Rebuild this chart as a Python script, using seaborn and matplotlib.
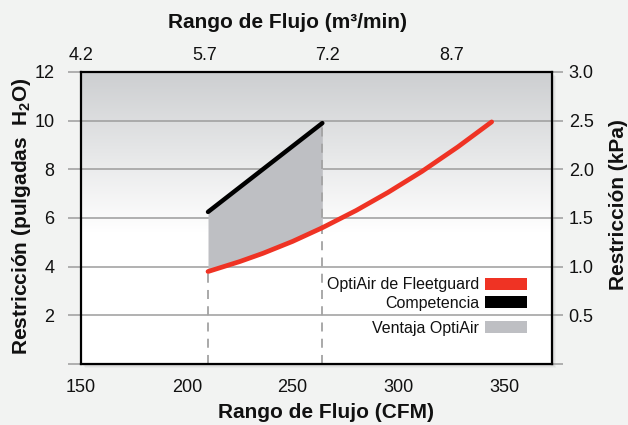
import numpy as np
import pandas as pd
import matplotlib
matplotlib.use("Agg")
import matplotlib.pyplot as plt
from matplotlib.patches import Patch, Rectangle
from matplotlib.colors import LinearSegmentedColormap
import seaborn as sns

# ---- data ----
cfm_red = [210, 225, 236, 250, 264, 280, 295, 311, 328, 344]
restr_red = [3.8, 4.21, 4.55, 5.04, 5.6, 6.31, 7.05, 7.91, 8.92, 9.95]
cfm_black = [210, 264]
restr_black = [6.25, 9.9]
y_ticks = [2, 4, 6, 8, 10]
kpa_ticks = [0.5, 1.0, 1.5, 2.0, 2.5, 3.0]
cfm_ticks = [150, 200, 250, 300, 350]
m3_ticks = [4.2, 5.7, 7.2, 8.7]
legend_labels = ["OptiAir de Fleetguard", "Competencia", "Ventaja OptiAir"]

RED = "#ef3324"
BLACK = "#000000"
GREY = "#bebfc3"
BG = "#f2f3f2"
GRID = "#9c9c9c"
TXT = "#111111"

sns.set_theme(style="white")
plt.rcParams["font.family"] = ["Liberation Sans", "DejaVu Sans"]
plt.rcParams["mathtext.fontset"] = "custom"
plt.rcParams["mathtext.bf"] = "Liberation Sans:bold"
plt.rcParams["mathtext.rm"] = "Liberation Sans"

W, H = 628, 425
fig = plt.figure(figsize=(W / 100, H / 100), dpi=100, facecolor=BG)
L, R, T, B = 81, 552, 72, 364
ax = fig.add_axes([L / W, 1 - B / H, (R - L) / W, (B - T) / H])
ax.set_zorder(1)

xmin, xmax = 150, 372.5
ax.set_xlim(xmin, xmax)
ax.set_ylim(0, 12)

# shadow behind the box
for i, a in enumerate([0.06, 0.05, 0.04, 0.03]):
    off = i + 1
    fig.patches.append(Rectangle(((L + off) / W, 1 - (B + off) / H), (R - L) / W, (B - T) / H,
                                 transform=fig.transFigure, facecolor="black", alpha=a,
                                 edgecolor="none", zorder=-1))

# gradient background
grad = np.linspace(0, 1, 256)
grad = np.clip((grad - 0.45) / 0.55, 0, 1)
cmap = LinearSegmentedColormap.from_list("g", ["#ffffff", "#cdcfd1"])
ax.imshow(grad[:, None], extent=[xmin, xmax, 0, 12], origin="lower", aspect="auto",
          cmap=cmap, vmin=0, vmax=1, zorder=0)

# gridlines extended beyond the box
px = (xmax - xmin) / (R - L)
ax.hlines([0] + y_ticks + [12], xmin - 13 * px, xmax + 11 * px, colors=GRID, lw=1.1,
          zorder=1, clip_on=False)

# fill between
fx = np.array([x for x in cfm_red if cfm_black[0] <= x <= cfm_black[-1]])
fr = np.array([y for x, y in zip(cfm_red, restr_red) if cfm_black[0] <= x <= cfm_black[-1]])
ax.fill_between(fx, fr, np.interp(fx, cfm_black, restr_black), color=GREY, zorder=2, lw=0)

# dashed guides
ax.vlines([cfm_black[0], cfm_black[-1]], 0, [restr_red[0], restr_black[-1]], colors="#a3a3a3",
          lw=1.3, linestyles=(0, (5, 4)), zorder=3)

df_red = pd.DataFrame({"cfm": cfm_red, "r": restr_red})
df_black = pd.DataFrame({"cfm": cfm_black, "r": restr_black})
sns.lineplot(data=df_red, x="cfm", y="r", ax=ax, color=RED, lw=3.4, zorder=4,
             solid_capstyle="round", solid_joinstyle="round")
sns.lineplot(data=df_black, x="cfm", y="r", ax=ax, color=BLACK, lw=3.2, zorder=5,
             solid_capstyle="round")

for s in ax.spines.values():
    s.set_color("black")
    s.set_linewidth(1.6)
    s.set_zorder(6)

ax.set_xlabel("")
ax.set_ylabel("")
ax.set_xticks(cfm_ticks)
ax.set_xticklabels([str(t) for t in cfm_ticks])
ax.set_yticks(y_ticks + [12])
ax.set_yticklabels([str(t) for t in y_ticks + [12]])
ax.tick_params(axis="x", length=0, pad=11, labelsize=13, colors=TXT)
ax.tick_params(axis="y", length=0, pad=19, labelsize=13, colors=TXT)

# secondary axes
sec_y = ax.secondary_yaxis("right", functions=(lambda y: y * 0.25, lambda k: k * 4))
sec_y.set_yticks(kpa_ticks)
sec_y.set_yticklabels([f"{t:.1f}" for t in kpa_ticks])
sec_y.tick_params(length=0, pad=12, labelsize=13, colors=TXT)
sec_y.spines["right"].set_visible(False)

k = 1.5 / 58.3
sec_x = ax.secondary_xaxis("top", functions=(lambda c: 4.2 + (c - 150) * k,
                                             lambda m: 150 + (m - 4.2) / k))
sec_x.set_xticks(m3_ticks)
sec_x.set_xticklabels([f"{t:.1f}" for t in m3_ticks])
sec_x.tick_params(length=0, pad=6, labelsize=13, colors=TXT)
sec_x.spines["top"].set_visible(False)

# axis titles
fig.text(326 / W, 1 - 413 / H, "Rango de Flujo (CFM)", ha="center", va="center",
         fontsize=15, fontweight="bold", color=TXT)
fig.text(288 / W, 1 - 22 / H, "Rango de Flujo (m³/min)", ha="center", va="center",
         fontsize=15, fontweight="bold", color=TXT)
fig.text(22 / W, 1 - 216 / H, r"Restricción (pulgadas  $\mathbf{H_2O}$)", ha="center",
         va="center", rotation=90, fontsize=15, fontweight="bold", color=TXT)
fig.text(618 / W, 1 - 205 / H, "Restricción (kPa)", ha="center", va="center",
         rotation=90, fontsize=15, fontweight="bold", color=TXT)

# legends
h1 = [Patch(facecolor=RED, edgecolor="none"), Patch(facecolor=BLACK, edgecolor="none")]
leg1 = ax.legend(h1, legend_labels[:2], loc="center right", markerfirst=False,
                 bbox_to_anchor=(527 / W, 1 - 294 / H), bbox_transform=fig.transFigure,
                 frameon=False, fontsize=11.5, borderpad=0, borderaxespad=0,
                 labelspacing=0.2, handlelength=2.6, handleheight=0.8, handletextpad=0.4)
for t in leg1.get_texts():
    t.set_color(TXT)
ax.add_artist(leg1)
h2 = [Patch(facecolor=GREY, edgecolor="none")]
leg2 = ax.legend(h2, legend_labels[2:], loc="center right", markerfirst=False,
                 bbox_to_anchor=(527 / W, 1 - 328 / H), bbox_transform=fig.transFigure,
                 frameon=False, fontsize=11.5, borderpad=0, borderaxespad=0,
                 handlelength=2.6, handleheight=0.8, handletextpad=0.4)
for t in leg2.get_texts():
    t.set_color(TXT)

fig.savefig("out.png", dpi=100, facecolor=BG)
